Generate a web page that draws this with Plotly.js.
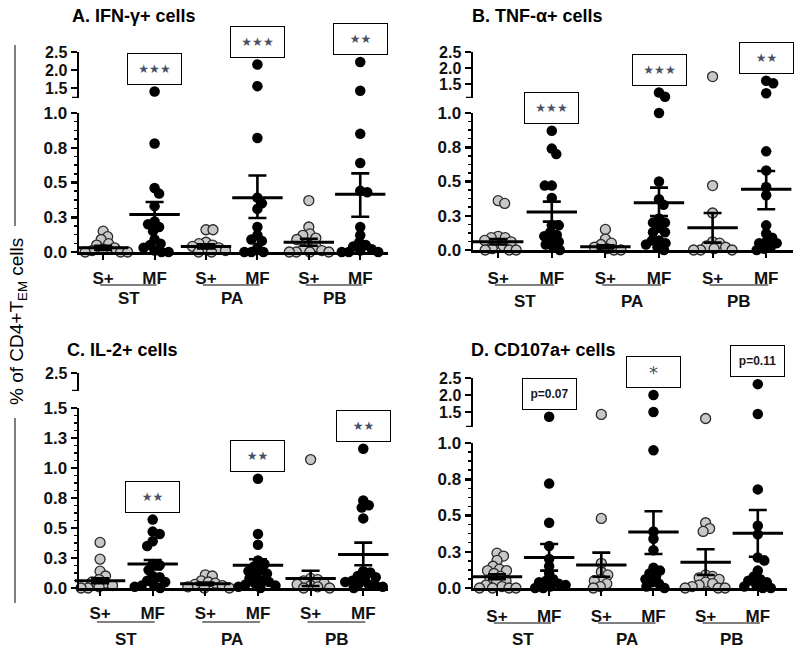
<!DOCTYPE html>
<html>
<head>
<meta charset="utf-8">
<script src="https://cdn.plot.ly/plotly-3.0.1.min.js"></script>
<style>html,body{margin:0;padding:0;background:#fff;}#chart{width:800px;height:650px;}</style>
</head>
<body>
<div id="chart"></div>
<script>
// ---------------- DATA ----------------
const categories = ['S+', 'MF', 'S+', 'MF', 'S+', 'MF'];
const sites = ['ST', 'PA', 'PB'];
const panelTitles = ['A. IFN-\u03b3+ cells', 'B. TNF-\u03b1+ cells', 'C. IL-2+ cells', 'D. CD107a+ cells'];

// A. IFN-gamma
const ifnST_S  = [0.15, 0.11, 0.09, 0.06, 0.05, 0.03, 0.02, 0.01, 0.0, 0.0, 0.0, 0.0];
const ifnST_MF = [1.40, 0.78, 0.46, 0.42, 0.33, 0.22, 0.20, 0.18, 0.15, 0.09, 0.06, 0.05, 0.03, 0.01, 0.0, 0.0];
const ifnPA_S  = [0.16, 0.16, 0.07, 0.06, 0.05, 0.04, 0.03, 0.02, 0.01, 0.0, 0.0];
const ifnPA_MF = [2.15, 1.55, 0.82, 0.39, 0.35, 0.31, 0.18, 0.12, 0.09, 0.08, 0.03, 0.0, 0.0, 0.0];
const ifnPB_S  = [0.37, 0.18, 0.13, 0.12, 0.10, 0.09, 0.05, 0.04, 0.02, 0.01, 0.0, 0.0, 0.0, 0.0];
const ifnPB_MF = [2.22, 1.42, 0.85, 0.64, 0.44, 0.43, 0.18, 0.12, 0.07, 0.05, 0.04, 0.02, 0.01, 0.0, 0.0, 0.0];
const ifnMean  = [0.03, 0.27, 0.04, 0.39, 0.07, 0.415];
const ifnSemHi = [0.045, 0.36, 0.055, 0.55, 0.095, 0.566];
const ifnSemLo = [0.015, 0.18, 0.025, 0.245, 0.045, 0.254];
const ifnSig   = ['\u2605\u2605\u2605', '\u2605\u2605\u2605', '\u2605\u2605'];

// B. TNF-alpha
const tnfST_S  = [0.36, 0.34, 0.10, 0.09, 0.09, 0.07, 0.06, 0.05, 0.03, 0.01, 0.0, 0.0, 0.0];
const tnfST_MF = [0.87, 0.74, 0.70, 0.47, 0.47, 0.38, 0.18, 0.18, 0.13, 0.11, 0.10, 0.07, 0.06, 0.04, 0.02, 0.0];
const tnfPA_S  = [0.15, 0.08, 0.05, 0.04, 0.02, 0.01, 0.0, 0.0];
const tnfPA_MF = [1.23, 1.10, 1.00, 0.50, 0.37, 0.33, 0.23, 0.20, 0.20, 0.16, 0.13, 0.13, 0.07, 0.07, 0.05, 0.04, 0.02, 0.0];
const tnfPB_S  = [1.73, 0.47, 0.27, 0.06, 0.05, 0.03, 0.02, 0.01, 0.0, 0.0, 0.0];
const tnfPB_MF = [1.60, 1.52, 1.21, 0.72, 0.58, 0.46, 0.40, 0.18, 0.12, 0.09, 0.06, 0.05, 0.05, 0.02, 0.01, 0.0];
const tnfMean  = [0.06, 0.277, 0.024, 0.345, 0.163, 0.443];
const tnfSemHi = [0.08, 0.353, 0.035, 0.455, 0.27, 0.577];
const tnfSemLo = [0.04, 0.207, 0.012, 0.248, 0.054, 0.297];
const tnfSig   = ['\u2605\u2605\u2605', '\u2605\u2605\u2605', '\u2605\u2605'];

// C. IL-2
const il2ST_S  = [0.38, 0.24, 0.14, 0.10, 0.07, 0.05, 0.04, 0.02, 0.01, 0.0, 0.0];
const il2ST_MF = [0.57, 0.47, 0.45, 0.39, 0.35, 0.20, 0.19, 0.15, 0.10, 0.09, 0.06, 0.05, 0.03, 0.02, 0.01, 0.0];
const il2PA_S  = [0.11, 0.10, 0.06, 0.05, 0.04, 0.03, 0.02, 0.01, 0.0, 0.0];
const il2PA_MF = [0.91, 0.45, 0.36, 0.23, 0.20, 0.18, 0.15, 0.14, 0.12, 0.10, 0.08, 0.06, 0.05, 0.04, 0.03, 0.02, 0.01, 0.0];
const il2PB_S  = [1.07, 0.08, 0.07, 0.06, 0.04, 0.03, 0.02, 0.01, 0.0, 0.0];
const il2PB_MF = [1.16, 0.73, 0.69, 0.67, 0.58, 0.14, 0.13, 0.10, 0.09, 0.08, 0.06, 0.05, 0.04, 0.03, 0.02, 0.01, 0.0];
const il2Mean  = [0.06, 0.20, 0.035, 0.19, 0.08, 0.28];
const il2SemHi = [0.08, 0.233, 0.045, 0.24, 0.144, 0.378];
const il2SemLo = [0.04, 0.155, 0.025, 0.15, 0.017, 0.19];
const il2Sig   = ['\u2605\u2605', '\u2605\u2605', '\u2605\u2605'];

// D. CD107a
const cdST_S  = [0.24, 0.22, 0.19, 0.15, 0.13, 0.12, 0.12, 0.10, 0.08, 0.06, 0.05, 0.04, 0.02, 0.01, 0.0, 0.0, 0.0, 0.0];
const cdST_MF = [1.36, 0.72, 0.45, 0.29, 0.20, 0.15, 0.10, 0.06, 0.05, 0.04, 0.03, 0.02, 0.01, 0.0, 0.0];
const cdPA_S  = [1.43, 0.48, 0.17, 0.11, 0.09, 0.06, 0.05, 0.03, 0.01, 0.0];
const cdPA_MF = [2.00, 1.50, 0.95, 0.39, 0.34, 0.26, 0.14, 0.12, 0.10, 0.08, 0.06, 0.04, 0.03, 0.01, 0.0];
const cdPB_S  = [1.31, 0.45, 0.41, 0.39, 0.09, 0.08, 0.07, 0.06, 0.04, 0.03, 0.02, 0.01, 0.0, 0.0, 0.0];
const cdPB_MF = [2.32, 1.44, 0.68, 0.43, 0.37, 0.21, 0.19, 0.12, 0.08, 0.06, 0.05, 0.04, 0.02, 0.01, 0.0, 0.0];
const cdMean  = [0.078, 0.21, 0.159, 0.386, 0.177, 0.377];
const cdSemHi = [0.095, 0.303, 0.244, 0.529, 0.267, 0.538];
const cdSemLo = [0.06, 0.12, 0.078, 0.234, 0.09, 0.216];
const cdSig   = ['p=0.07', '*', 'p=0.11'];

// axis tick labels
const lowTickVals1 = [0, 0.25, 0.5, 0.75, 1.0];
const lowTickText1 = ['0.0', '0.3', '0.5', '0.8', '1.0'];
const lowTickVals2 = [0, 0.25, 0.5, 0.75, 1.0, 1.25, 1.5];
const lowTickText2 = ['0.0', '0.3', '0.5', '0.8', '1.0', '1.3', '1.5'];
const upTickVals1  = [1.5, 2.0, 2.5];
const upTickText1  = ['1.5', '2.0', '2.5'];
const upTickVals2  = [2.5];
const upTickText2  = ['2.5'];
const yTitle = '% of CD4+T<sub>EM</sub> cells';

// ---------------- LAYOUT GEOMETRY (pixels) ----------------
const W = 800, H = 650;
const FONT = 'Liberation Sans, Arial, Helvetica, sans-serif';
const px = p => p / W;
const py = p => 1 - p / H;

const panels = [
  { groups: [ifnST_S, ifnST_MF, ifnPA_S, ifnPA_MF, ifnPB_S, ifnPB_MF], mean: ifnMean, hi: ifnSemHi, lo: ifnSemLo, sig: ifnSig,
    xdom: [79, 388], xr: [-0.47, 5.54], lowPx: [252, 113], lowR: [0, 1.0], lowTV: lowTickVals1, lowTT: lowTickText1,
    upPx: [98, 52], upR: [1.22, 2.5], upTV: upTickVals1, upTT: upTickText1, title: [70, 16], stand: 4, underY: 285, groupY: 298 },
  { groups: [tnfST_S, tnfST_MF, tnfPA_S, tnfPA_MF, tnfPB_S, tnfPB_MF], mean: tnfMean, hi: tnfSemHi, lo: tnfSemLo, sig: tnfSig,
    xdom: [473, 793], xr: [-0.47, 5.5], lowPx: [250, 113], lowR: [0, 1.0], lowTV: lowTickVals1, lowTT: lowTickText1,
    upPx: [98, 52], upR: [1.06, 2.5], upTV: upTickVals1, upTT: upTickText1, title: [470, 16], stand: 6, underY: 285, groupY: 301 },
  { groups: [il2ST_S, il2ST_MF, il2PA_S, il2PA_MF, il2PB_S, il2PB_MF], mean: il2Mean, hi: il2SemHi, lo: il2SemLo, sig: il2Sig,
    xdom: [79, 388], xr: [-0.4, 5.47], lowPx: [588, 408], lowR: [0, 1.5], lowTV: lowTickVals2, lowTT: lowTickText2,
    upPx: [391, 373], upR: [2.0, 2.5], upTV: upTickVals2, upTT: upTickText2, title: [65, 350], stand: 3, underY: 622, groupY: 639 },
  { groups: [cdST_S, cdST_MF, cdPA_S, cdPA_MF, cdPB_S, cdPB_MF], mean: cdMean, hi: cdSemHi, lo: cdSemLo, sig: cdSig,
    xdom: [473, 787], xr: [-0.46, 5.56], lowPx: [588, 443], lowR: [0, 1.0], lowTV: lowTickVals1, lowTT: lowTickText1,
    upPx: [427, 378], upR: [1.06, 2.5], upTV: upTickVals1, upTT: upTickText1, title: [469, 350], stand: 6, underY: 623, groupY: 639 }
];

// simple beeswarm: horizontal offsets (px) so dots of diameter d do not overlap too much
function swarm(vals, pxPerY, d) {
  const order = vals.map((v, i) => i).sort((a, b) => vals[b] - vals[a]);
  const placed = [];
  const out = new Array(vals.length);
  let flip = 1;
  for (const i of order) {
    const yp = vals[i] * pxPerY;
    let best = null;
    for (let s = 0; s < 200 && best === null; s++) {
      const cands = s === 0 ? [0] : [flip * s * 0.5, -flip * s * 0.5];
      for (const dx of cands) {
        if (placed.every(p => (p.x - dx) ** 2 + (p.y - yp) ** 2 >= d * d)) { best = dx; break; }
      }
    }
    if (best !== 0) flip = -flip;
    placed.push({ x: best, y: yp });
    out[i] = best;
  }
  return out;
}

const traces = [];
const layout = {
  width: W, height: H, margin: { l: 0, r: 0, t: 0, b: 0 }, autosize: false,
  paper_bgcolor: '#fff', plot_bgcolor: '#fff', showlegend: false,
  font: { family: FONT, color: '#000' },
  shapes: [], annotations: []
};

const axStyle = { showline: true, linewidth: 2.5, linecolor: '#000', showgrid: false, zeroline: false,
  ticks: 'outside', tickcolor: '#000', fixedrange: true };

panels.forEach((P, i) => {
  const xid = i === 0 ? 'x' : 'x' + (i + 1);
  const xName = i === 0 ? 'xaxis' : 'xaxis' + (i + 1);
  const nLo = 2 * i + 1, nUp = 2 * i + 2;
  const yLoId = nLo === 1 ? 'y' : 'y' + nLo, yLoName = nLo === 1 ? 'yaxis' : 'yaxis' + nLo;
  const yUpId = 'y' + nUp, yUpName = 'yaxis' + nUp;

  layout[xName] = Object.assign({}, axStyle, {
    domain: [px(P.xdom[0]), px(P.xdom[1])], range: P.xr, anchor: yLoId,
    tickmode: 'array', tickvals: [0, 1, 2, 3, 4, 5], ticktext: categories,
    ticklen: 5, tickwidth: 2, ticklabelstandoff: P.stand,
    tickfont: { size: 17, family: FONT, weight: 'bold', color: '#111' }
  });
  layout[yLoName] = Object.assign({}, axStyle, {
    domain: [py(P.lowPx[0]), py(P.lowPx[1])], range: P.lowR, anchor: xid,
    tickmode: 'array', tickvals: P.lowTV, ticktext: P.lowTT, ticklen: 6, tickwidth: 2.5,
    minor: { tickmode: 'linear', tick0: 0, dtick: 0.0625, ticks: 'outside', ticklen: 3, tickwidth: 1.5, tickcolor: '#000', showgrid: false },
    tickfont: { size: 17, family: FONT, weight: 'bold', color: '#111' }
  });
  layout[yUpName] = Object.assign({}, axStyle, {
    domain: [py(P.upPx[0]), py(P.upPx[1])], range: P.upR, anchor: xid,
    tickmode: 'array', tickvals: P.upTV, ticktext: P.upTT, ticklen: 6, tickwidth: 2.5,
    tickfont: { size: 16, family: FONT, weight: 'bold', color: '#111' }
  });
  // end tick at the lower end of the upper (broken) segment
  layout.shapes.push({ type: 'line', xref: 'paper', yref: yUpId, x0: px(P.xdom[0] - 7), x1: px(P.xdom[0]),
    y0: P.upR[0], y1: P.upR[0], line: { color: '#000', width: 2.5 } });

  const pxPerX = (P.xdom[1] - P.xdom[0]) / (P.xr[1] - P.xr[0]);
  const pxPerYLo = (P.lowPx[0] - P.lowPx[1]) / (P.lowR[1] - P.lowR[0]);
  const pxPerYUp = (P.upPx[0] - P.upPx[1]) / (P.upR[1] - P.upR[0]);

  // keep the upper subplot alive even when it has no points
  traces.push({ type: 'scatter', mode: 'markers', xaxis: xid, yaxis: yUpId, x: [], y: [], hoverinfo: 'skip' });

  P.groups.forEach((vals, g) => {
    const grey = g % 2 === 0;
    const marker = grey
      ? { size: 10, color: '#c8c8c8', line: { color: '#2a2a2a', width: 1.3 } }
      : { size: 10.5, color: '#000', line: { color: '#000', width: 0 } };
    const lowV = vals.filter(v => v <= P.lowR[1]);
    const upV = vals.filter(v => v > P.lowR[1]);
    const offLo = swarm(lowV, pxPerYLo, 7);
    traces.push({ type: 'scatter', mode: 'markers', xaxis: xid, yaxis: yLoId, cliponaxis: false,
      x: lowV.map((v, k) => g + offLo[k] / pxPerX), y: lowV, marker, hoverinfo: 'y' });
    if (upV.length) {
      const offUp = swarm(upV.map(v => v - P.upR[0]), pxPerYUp, 7);
      traces.push({ type: 'scatter', mode: 'markers', xaxis: xid, yaxis: yUpId, cliponaxis: false,
        x: upV.map((v, k) => g + offUp[k] / pxPerX), y: upV, marker, hoverinfo: 'y' });
    }
  });

  // mean +/- SEM
  traces.push({ type: 'scatter', mode: 'markers', xaxis: xid, yaxis: yLoId, cliponaxis: false,
    x: [0, 1, 2, 3, 4, 5], y: P.mean,
    marker: { symbol: 'line-ew', size: 36, color: '#000', line: { color: '#000', width: 3 } },
    error_y: { type: 'data', symmetric: false,
      array: P.mean.map((m, k) => P.hi[k] - m), arrayminus: P.mean.map((m, k) => m - P.lo[k]),
      width: 9, thickness: 2.6, color: '#000' },
    hoverinfo: 'y' });

  // significance boxes above MF groups
  P.sig.forEach((txt, s) => {
    const g = 2 * s + 1;
    const mx = Math.max(...P.groups[g]);
    const isStar = txt.indexOf('p=') !== 0;
    layout.annotations.push({
      xref: xid, yref: mx > P.lowR[1] ? yUpId : yLoId, x: g, y: mx,
      xanchor: 'center', yanchor: 'bottom', yshift: 7, showarrow: false,
      text: txt, width: 53, height: 30, bordercolor: '#000', borderwidth: 1, borderpad: 0, bgcolor: '#fff',
      font: isStar ? { family: 'DejaVu Sans', size: txt === '*' ? 18 : 12, color: '#4a5064' }
                   : { family: FONT, size: 12, weight: 'bold', color: '#1a1a1a' }
    });
  });

  // panel title
  layout.annotations.push({ xref: 'paper', yref: 'paper', x: px(P.title[0]), y: py(P.title[1]),
    xanchor: 'left', yanchor: 'middle', showarrow: false, text: panelTitles[i],
    font: { family: FONT, size: 18, weight: 'bold', color: '#000' } });

  // site group labels + underlines
  sites.forEach((site, s) => {
    layout.annotations.push({ xref: xid, yref: 'paper', x: 2 * s + 0.5, y: py(P.groupY),
      xanchor: 'center', yanchor: 'middle', showarrow: false, text: site,
      font: { family: FONT, size: 17, weight: 'bold', color: '#111' } });
    layout.shapes.push({ type: 'line', xref: xid, yref: 'paper', x0: 2 * s - 0.06, x1: 2 * s + 1.04,
      y0: py(P.underY), y1: py(P.underY), line: { color: '#000', width: 1 } });
  });
});

// shared y title with its rules
layout.annotations.push({ xref: 'paper', yref: 'paper', x: px(18), y: py(322), textangle: -90,
  xanchor: 'center', yanchor: 'middle', showarrow: false, text: yTitle,
  font: { family: FONT, size: 19, color: '#000' } });
layout.shapes.push({ type: 'line', xref: 'paper', yref: 'paper', x0: px(15), x1: px(15), y0: py(45), y1: py(226), line: { color: '#000', width: 1 } });
layout.shapes.push({ type: 'line', xref: 'paper', yref: 'paper', x0: px(15), x1: px(15), y0: py(418), y1: py(603), line: { color: '#000', width: 1 } });

Plotly.newPlot('chart', traces, layout, { displayModeBar: false, staticPlot: true });
</script>
</body>
</html>
